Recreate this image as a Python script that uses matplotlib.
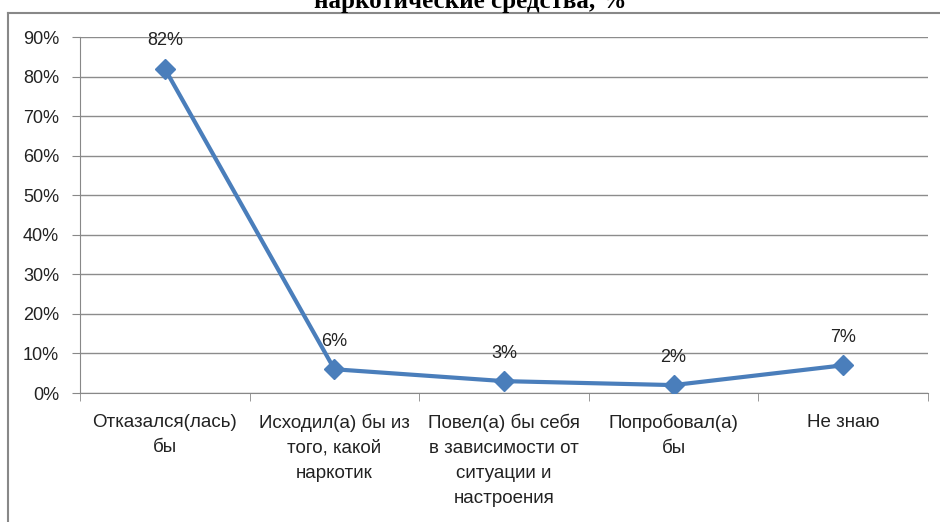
import matplotlib
matplotlib.use("Agg")
import matplotlib.pyplot as plt
from matplotlib.lines import Line2D

categories = ["Отказался(лась)\nбы", "Исходил(а) бы из\nтого, какой\nнаркотик",
              "Повел(а) бы себя\nв зависимости от\nситуации и\nнастроения",
              "Попробовал(а)\nбы", "Не знаю"]
values = [82, 6, 3, 2, 7]
yticks = [0, 10, 20, 30, 40, 50, 60, 70, 80, 90]
title = "наркотические средства, %"

plt.rcParams['font.family'] = ['Liberation Sans', 'DejaVu Sans']
W, H = 940, 522
fig = plt.figure(figsize=(W/100, H/100), dpi=100)
ax = fig.add_axes([80/W, 1-393/H, (928-80)/W, (393-37)/H])

x = list(range(len(categories)))
ax.plot(x, values, color='#4a7ebb', lw=3, marker='D', ms=10, zorder=3)
for xi, v in zip(x, values):
    ax.annotate(f"{v}%", (xi, v), xytext=(0, 14), textcoords='offset points',
                ha='center', va='bottom', fontsize=13, color='#222222')

ax.set_xlim(-0.5, len(categories)-0.5)
ax.set_ylim(0, 90)
ax.set_yticks(yticks)
ax.set_yticklabels([f"{t}%" for t in yticks], fontsize=13, color='#222222')
ax.set_xticks(x)
ax.set_xticklabels(categories, fontsize=13.5, color='#222222', linespacing=1.6, va='top')
ax.tick_params(axis='x', length=0, pad=15)
ax.set_xticks([i + 0.5 for i in range(-1, len(categories))], minor=True)
ax.tick_params(axis='x', which='minor', length=6, color='#888888', direction='out')
ax.tick_params(axis='y', length=6, color='#888888', pad=9)
ax.grid(axis='y', color='#8c8c8c', lw=1)
ax.set_axisbelow(True)
for s in ['top', 'right']:
    ax.spines[s].set_visible(False)
for s in ['left', 'bottom']:
    ax.spines[s].set_color('#888888')

# outer frame
fig.add_artist(Line2D([8/W, 1], [1-13/H, 1-13/H], color='#888888', lw=1.5, transform=fig.transFigure))
fig.add_artist(Line2D([8/W, 8/W], [0, 1-13/H], color='#888888', lw=1.5, transform=fig.transFigure))

fig.text(470/W, 1-8/H, title, ha='center', va='baseline', fontsize=18, fontweight='bold',
         family=['Liberation Serif', 'DejaVu Serif'])

fig.savefig("out.png", dpi=100)
